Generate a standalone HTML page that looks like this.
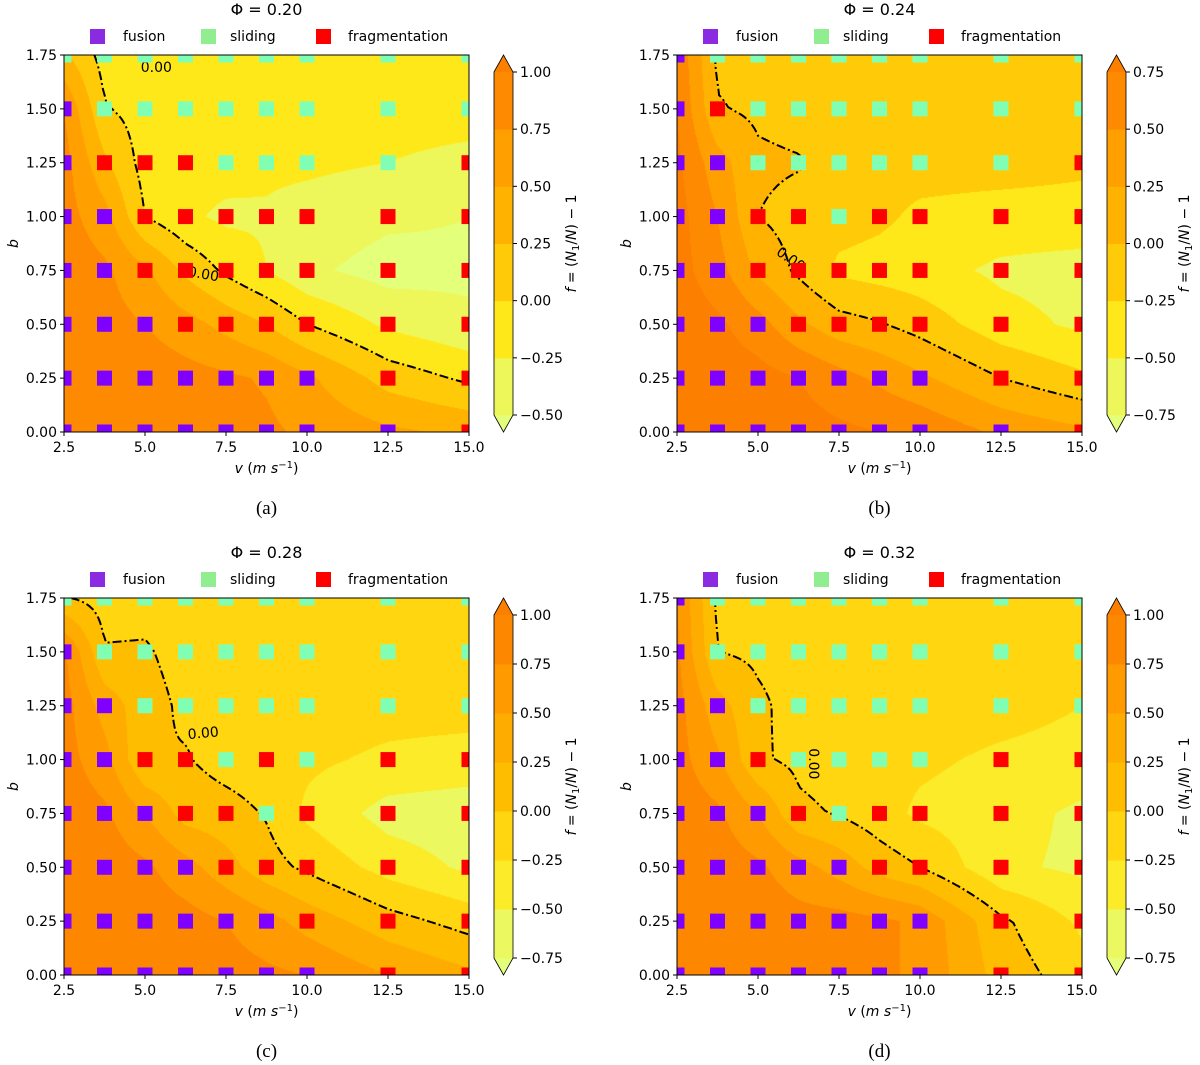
<!DOCTYPE html>
<html><head><meta charset="utf-8">
<style>
html,body{margin:0;padding:0;background:#fff;}
#wrap{position:relative;width:1200px;height:1065px;overflow:hidden;}
canvas{position:absolute;}
svg{position:absolute;left:0;top:0;}
text{font-family:"DejaVu Sans","Liberation Sans",sans-serif;fill:#000;}
</style></head>
<body>
<div id="wrap">
<svg id="svg" width="1200" height="1065"></svg>
</div>
<script>
// ---- data ----
const vVals=[2.5,3.75,5,6.25,7.5,8.75,10,12.5,15];
const bVals=[0,0.25,0.5,0.75,1.0,1.25,1.5,1.75];
const xTicks=[2.5,5.0,7.5,10.0,12.5,15.0];
const yTicks=[0,0.25,0.5,0.75,1.0,1.25,1.5,1.75];
// f values, rows b=0 .. 1.75
const fA=[
[1.0,1.0,0.95,0.9,0.85,0.8,0.7,0.55,0.45],
[1.0,0.95,0.9,0.85,0.8,0.72,0.55,0.15,-0.05],
[0.95,0.85,0.75,0.6,0.42,0.25,0.0,-0.3,-0.45],
[0.9,0.8,0.55,0.2,-0.05,-0.25,-0.45,-0.6,-0.55],
[0.85,0.6,0.0,-0.2,-0.3,-0.28,-0.35,-0.45,-0.5],
[0.85,0.3,-0.1,-0.15,-0.15,-0.2,-0.2,-0.25,-0.35],
[0.75,0.02,-0.1,-0.1,-0.1,-0.1,-0.1,-0.1,-0.1],
[0.3,-0.1,-0.05,-0.1,-0.1,-0.1,-0.1,-0.1,-0.1]];
const fB=[
[1.0,0.95,0.9,0.85,0.8,0.75,0.7,0.45,0.3],
[0.95,0.9,0.85,0.75,0.6,0.45,0.3,0.0,-0.2],
[0.9,0.8,0.6,0.3,0.1,0.02,-0.1,-0.4,-0.55],
[0.85,0.6,0.2,-0.05,-0.3,-0.35,-0.4,-0.55,-0.6],
[0.85,0.5,0.0,-0.1,-0.15,-0.2,-0.3,-0.35,-0.35],
[0.8,0.35,0.05,0.02,-0.1,-0.15,-0.15,-0.15,-0.2],
[0.75,0.02,-0.05,-0.1,-0.1,-0.1,-0.1,-0.1,-0.1],
[0.7,-0.05,-0.05,-0.1,-0.1,-0.1,-0.1,-0.1,-0.1]];
const fC=[
[1.0,1.0,0.95,0.9,0.85,0.8,0.75,0.5,0.3],
[1.0,0.95,0.9,0.85,0.75,0.6,0.4,0.1,-0.1],
[0.95,0.9,0.8,0.6,0.35,0.1,-0.05,-0.35,-0.55],
[0.9,0.8,0.5,0.15,0.1,-0.02,-0.3,-0.6,-0.65],
[0.85,0.6,0.0,0.02,-0.1,-0.15,-0.2,-0.3,-0.35],
[0.85,0.4,0.1,-0.05,-0.1,-0.1,-0.1,-0.15,-0.15],
[0.8,0.02,0.03,-0.1,-0.1,-0.1,-0.1,-0.1,-0.1],
[0.02,-0.1,-0.1,-0.1,-0.1,-0.1,-0.1,-0.1,-0.1]];
const fD=[
[1.0,1.0,0.95,0.9,0.85,0.8,0.7,0.15,-0.15],
[1.0,0.95,0.9,0.85,0.85,0.8,0.7,0.05,-0.3],
[0.95,0.9,0.8,0.6,0.4,0.15,0.0,-0.45,-0.55],
[0.9,0.8,0.5,0.05,-0.02,-0.15,-0.3,-0.4,-0.55],
[0.85,0.55,0.03,-0.05,-0.1,-0.15,-0.2,-0.3,-0.35],
[0.85,0.35,0.05,-0.1,-0.1,-0.1,-0.1,-0.15,-0.25],
[0.8,0.0,-0.05,-0.1,-0.1,-0.1,-0.1,-0.1,-0.1],
[0.75,-0.05,-0.1,-0.1,-0.1,-0.1,-0.1,-0.1,-0.1]];
// outcomes, rows b=1.75 (top) .. 0 ; F fusion, S sliding, R fragmentation
const mA=["SSSSSSSSS","FSSSSSSSS","FRRRSSSSR","FFRRRRRRR","FFRRRRRRR","FFFRRRRRR","FFFFFFFRR","FFFFFFFFR"];
const mB=["FSSSSSSSS","FRSSSSSSS","FFSSSSSSR","FFRRSRRRR","FFRRRRRRR","FFFRRRRRR","FFFFFFFRR","FFFFFFFFR"];
const mC=["SSSSSSSSS","FSSSSSSSS","FFSSSSSSS","FFRRSRSRR","FFFRRSRRR","FFFFRRRRR","FFFFFFRRR","FFFFFFFRR"];
const mD=["FSSSSSSSS","FSSSSSSSS","FFSSSSSSS","FFRSSSSRR","FFFRSRRRR","FFFFFRRRR","FFFFFFFRR","FFFFFFFRR"];
const lvA=[-0.5,-0.25,0,0.25,0.5,0.75,1.0];
const lvB=[-0.75,-0.5,-0.25,0,0.25,0.5,0.75];
const lvC=[-0.75,-0.5,-0.25,0,0.25,0.5,0.75,1.0];
const lvD=[-0.75,-0.5,-0.25,0,0.25,0.5,0.75,1.0];
const phis=["0.20","0.24","0.28","0.32"];

// ---- helpers ----
const NS="http://www.w3.org/2000/svg";
const svg=document.getElementById('svg');
function el(tag,attrs,parent,txt){const e=document.createElementNS(NS,tag);for(const k in attrs)e.setAttribute(k,attrs[k]);if(txt!==undefined)e.textContent=txt;(parent||svg).appendChild(e);return e;}
const stops=[[0,[228,255,122]],[0.25,[255,232,26]],[0.5,[255,189,0]],[0.75,[255,160,0]],[1,[252,127,0]]];
function wistia(t){t=Math.max(0,Math.min(1,t));for(let i=0;i<4;i++){const a=stops[i],b=stops[i+1];if(t<=b[0]){const u=(t-a[0])/(b[0]-a[0]);return a[1].map((c,k)=>Math.round(c+(b[1][k]-c)*u));}}return stops[4][1];}
function bandColors(lv){const n=lv.length-1;const cols=[wistia(0)];for(let k=0;k<n;k++)cols.push(wistia((k+0.5)/n));cols.push(wistia(1));return cols;}
function rgb(c){return 'rgb('+c.join(',')+')';}
function fAt(g,v,b){let i=0;while(i<vVals.length-2&&v>vVals[i+1])i++;let j=Math.min(6,Math.max(0,Math.floor(b/0.25)));const u=(v-vVals[i])/(vVals[i+1]-vVals[i]);const w=(b-bVals[j])/0.25;
return g[j][i]*(1-u)*(1-w)+g[j][i+1]*u*(1-w)+g[j+1][i]*(1-u)*w+g[j+1][i+1]*u*w;}
function fmt(x){return (x<0?'\u2212':'')+Math.abs(x).toFixed(2);}

const W=405,H=377;
const panels=[
{L:64,T:55,g:fA,m:mA,lv:lvA,cap:'(a)',lab:[[5.35,1.69,0],[6.8,0.73,10]]},
{L:677,T:55,g:fB,m:mB,lv:lvB,cap:'(b)',lab:[[6.0,0.8,35]]},
{L:64,T:598,g:fC,m:mC,lv:lvC,cap:'(c)',lab:[[6.8,1.12,-5]]},
{L:677,T:598,g:fD,m:mD,lv:lvD,cap:'(d)',lab:[[6.7,0.98,90]]}];
const mCol={F:'#7f00ff',S:'#80ffb4',R:'#ff0000'};
const mName={F:'fusion',S:'sliding',R:'fragmentation'};

panels.forEach((p,pi)=>{
  const xs=v=>p.L+(v-2.5)/12.5*W;
  const ys=b=>p.T+H-b/1.75*H;
  const cols=bandColors(p.lv);
  const grp=el('g',{},svg);
  
  
  const cv=document.createElement('canvas');cv.width=W;cv.height=H;cv.style.left=p.L+'px';cv.style.top=p.T+'px';
  
  
  document.getElementById('wrap').insertBefore(cv,svg);
  const ctx=cv.getContext('2d');const img=ctx.createImageData(W,H);
  for(let py=0;py<H;py++)for(let px=0;px<W;px++){
    const v=2.5+(px+0.5)/W*12.5,b=1.75*(1-(py+0.5)/H);const f=fAt(p.g,v,b);
    let k=0;while(k<p.lv.length&&f>p.lv[k])k++;const c=cols[k];const o=(py*W+px)*4;
    img.data[o]=c[0];img.data[o+1]=c[1];img.data[o+2]=c[2];img.data[o+3]=255;}
  ctx.putImageData(img,0,0);
  const NV=126,NB=95;const Z=[];
  for(let i=0;i<NV;i++){Z.push([]);for(let j=0;j<NB;j++)Z[i].push(fAt(p.g,2.5+12.5*i/(NV-1),1.75*j/(NB-1)));}
  const pt={},adj={};
  function edge(id,i0,j0,i1,j1){if(!pt[id]){const z0=Z[i0][j0],z1=Z[i1][j1];const t=z0/(z0-z1);const v=2.5+12.5*(i0+(i1-i0)*t)/(NV-1),b=1.75*(j0+(j1-j0)*t)/(NB-1);pt[id]=[xs(v),ys(b)];}return id;}
  function link(a,b){(adj[a]=adj[a]||[]).push(b);(adj[b]=adj[b]||[]).push(a);}
  for(let i=0;i<NV-1;i++)for(let j=0;j<NB-1;j++){
    const E=[['h'+i+'_'+j,i,j,i+1,j],['v'+(i+1)+'_'+j,i+1,j,i+1,j+1],['h'+i+'_'+(j+1),i,j+1,i+1,j+1],['v'+i+'_'+j,i,j,i,j+1]];
    const cr=[];E.forEach(e=>{if((Z[e[1]][e[2]]>0)!==(Z[e[3]][e[4]]>0))cr.push(edge(...e));});
    if(cr.length===2)link(cr[0],cr[1]);else if(cr.length===4){link(cr[0],cr[1]);link(cr[2],cr[3]);}}
  const used={};const paths=[];
  const ids=Object.keys(adj).sort((a,b)=>adj[a].length-adj[b].length);
  ids.forEach(s=>{if(used[s])return;let cur=s,prev=null;const poly=[pt[s]];used[s]=1;
    while(true){const nx=(adj[cur]||[]).find(n=>n!==prev&&!used[n]);if(!nx){const back=(adj[cur]||[]).find(n=>n===s&&prev!==s&&poly.length>2);if(back)poly.push(pt[s]);break;}used[nx]=1;poly.push(pt[nx]);prev=cur;cur=nx;}
    if(poly.length>1)paths.push(poly);});
  const clipId='clip'+pi;
  const defs=el('defs',{},grp);const cp=el('clipPath',{id:clipId},defs);el('rect',{x:p.L,y:p.T,width:W,height:H},cp);
  const cg=el('g',{'clip-path':'url(#'+clipId+')'},grp);
  paths.forEach(poly=>{const pe=el('path',{d:'M'+poly.map(q=>q[0].toFixed(1)+','+q[1].toFixed(1)).join('L'),fill:'none',stroke:'#000','stroke-width':2,'stroke-dasharray':'9,3,2,3'},cg);
    
    });
  p.lab.forEach(l=>{const t=el('text',{x:xs(l[0]),y:ys(l[1]),'font-size':14,'text-anchor':'middle','dominant-baseline':'middle',transform:'rotate('+l[2]+' '+xs(l[0])+' '+ys(l[1])+')'},cg,'0.00');
    
    });
  p.m.forEach((row,ri)=>{const b=bVals[7-ri];row.split('').forEach((c,ci)=>{const v=vVals[ci];
    const r=el('rect',{x:xs(v)-7.5,y:ys(b)-7.5,width:15,height:15,fill:mCol[c]},cg);
    
    });});
  const fr=el('rect',{x:p.L,y:p.T,width:W,height:H,fill:'none',stroke:'#000','stroke-width':1},grp);
  
  
  xTicks.forEach(v=>{el('line',{x1:xs(v),x2:xs(v),y1:p.T+H,y2:p.T+H+4,stroke:'#000'},grp);
    const t=el('text',{x:xs(v),y:p.T+H+20,'font-size':14,'text-anchor':'middle'},grp,v.toFixed(1));
    
    });
  yTicks.forEach(b=>{el('line',{x1:p.L-4,x2:p.L,y1:ys(b),y2:ys(b),stroke:'#000'},grp);
    const t=el('text',{x:p.L-7,y:ys(b)+5,'font-size':14,'text-anchor':'end'},grp,b.toFixed(2));
    
    });
  const xl=el('text',{x:p.L+W/2,y:p.T+H+41,'font-size':14,'text-anchor':'middle'},grp);
  
  
  el('tspan',{'font-style':'italic'},xl,'v');el('tspan',{},xl,' (');el('tspan',{'font-style':'italic'},xl,'m s');el('tspan',{dy:-5,'font-size':10},xl,'\u22121');el('tspan',{dy:5},xl,')');
  const yl=el('text',{x:p.L-46,y:p.T+H/2,'font-size':14,'font-style':'italic','text-anchor':'middle',transform:'rotate(-90 '+(p.L-46)+' '+(p.T+H/2)+')'},grp,'b');
  
  
  const tt=el('text',{x:p.L+W/2,y:p.T-40,'font-size':16,'text-anchor':'middle'},grp,'\u03A6 = '+phis[pi]);
  
  
  [['fusion','#8a2be2',26,59],['sliding','#90ee90',137,166],['fragmentation','#ff0000',252,284]].forEach(e=>{
    const lg=el('g',{},grp);
    
    
    el('rect',{x:p.L+e[2],y:p.T-26,width:15,height:15,fill:e[1]},lg);
    el('text',{x:p.L+e[3],y:p.T-14,'font-size':14},lg,e[0]);});
  const cpn=el('text',{x:p.L+W/2,y:p.T+H+82,'font-size':19,'text-anchor':'middle','style':'font-family:"Liberation Serif",serif'},grp,p.cap);
  
  
  const cbx=p.L+430,cbw=19,top=p.T+17,bot=p.T+H-17;const n=p.lv.length-1;const bh=(bot-top)/n;
  const cb=el('g',{},grp);
  
  
  el('polygon',{points:`${cbx},${top} ${cbx+cbw/2},${p.T} ${cbx+cbw},${top}`,fill:rgb(cols[cols.length-1])},cb);
  el('polygon',{points:`${cbx},${bot} ${cbx+cbw/2},${p.T+H} ${cbx+cbw},${bot}`,fill:rgb(cols[0])},cb);
  for(let k=0;k<n;k++)el('rect',{x:cbx,y:bot-(k+1)*bh,width:cbw,height:bh+0.5,fill:rgb(cols[k+1])},cb);
  el('polygon',{points:`${cbx},${top} ${cbx+cbw/2},${p.T} ${cbx+cbw},${top} ${cbx+cbw},${bot} ${cbx+cbw/2},${p.T+H} ${cbx},${bot}`,fill:'none',stroke:'#000','stroke-width':0.8},cb);
  p.lv.forEach((l,k)=>{const y=bot-k*bh;el('line',{x1:cbx+cbw,x2:cbx+cbw+4,y1:y,y2:y,stroke:'#000'},cb);
    el('text',{x:cbx+cbw+7,y:y+5,'font-size':14},cb,fmt(l));});
  const cx=cbx+cbw+63,cy=p.T+H/2;
  const cl=el('text',{x:cx,y:cy,'font-size':14,'text-anchor':'middle',transform:'rotate(-90 '+cx+' '+cy+')'},cb);
  
  
  el('tspan',{'font-style':'italic'},cl,'f');el('tspan',{},cl,' = (');el('tspan',{'font-style':'italic'},cl,'N');el('tspan',{dy:3,'font-size':10},cl,'1');el('tspan',{dy:-3},cl,'/');el('tspan',{'font-style':'italic'},cl,'N');el('tspan',{},cl,') \u2212 1');
});
</script>
</body></html>
